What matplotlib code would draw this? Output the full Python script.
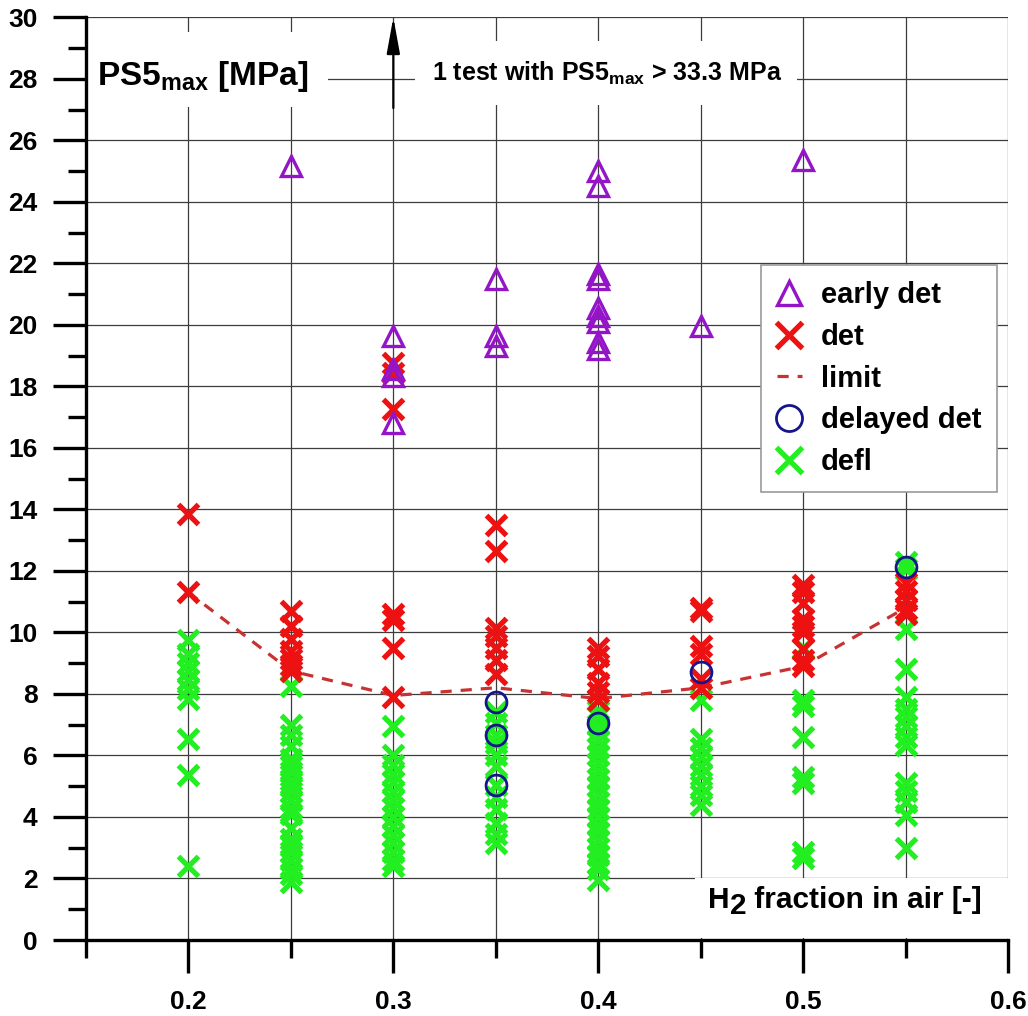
import matplotlib
matplotlib.use("Agg")
import matplotlib.pyplot as plt
from matplotlib.patches import Rectangle
from matplotlib.font_manager import FontProperties

plt.rcParams["font.family"] = ["Liberation Sans", "DejaVu Sans"]
plt.rcParams["font.weight"] = "bold"
plt.rcParams["mathtext.fontset"] = "custom"
plt.rcParams["mathtext.rm"] = "Liberation Sans:bold"
plt.rcParams["mathtext.bf"] = "Liberation Sans:bold"

# H2 fraction of each test series
h2_levels = [0.20, 0.25, 0.30, 0.35, 0.40, 0.45, 0.50, 0.55]

# PS5 peak pressures [MPa] per H2 fraction, grouped by combustion regime
early_det = {
    0.25: [25.15],
    0.30: [19.65, 18.55, 18.35, 16.8],
    0.35: [21.5, 19.65, 19.3],
    0.40: [25.0, 24.5, 21.65, 21.5, 20.55, 20.3, 20.1, 19.45, 19.2],
    0.45: [19.95],
    0.50: [25.35],
}
det = {
    0.20: [13.85, 11.3],
    0.25: [10.7, 10.2, 9.8, 9.4, 9.15, 8.95, 8.75],
    0.30: [18.75, 18.45, 17.25, 10.6, 10.4, 9.5, 7.9],
    0.35: [13.5, 12.65, 10.15, 9.9, 9.5, 9.1, 8.65],
    0.40: [9.5, 9.25, 8.8, 8.35, 8.05, 7.8],
    0.45: [10.8, 10.7, 9.55, 9.3, 8.5, 8.2],
    0.50: [11.55, 11.3, 10.95, 10.45, 10.2, 10.0, 9.45, 9.1, 8.9],
    0.55: [11.6, 11.35, 11.05, 10.75, 10.6],
}
delayed_det = {
    0.35: [7.75, 6.65, 5.05],
    0.40: [7.07],
    0.45: [8.72],
    0.55: [12.12],
}
defl = {
    0.20: [9.75, 9.3, 9.0, 8.75, 8.45, 8.15, 7.85, 6.55, 5.35, 2.42],
    0.25: [8.25, 7.0, 6.65, 6.3, 5.9, 5.65, 5.45, 5.2, 5.0, 4.8, 4.55, 4.3,
           4.1, 3.65, 3.3, 3.05, 2.85, 2.6, 2.35, 2.15, 1.9],
    0.30: [6.95, 6.0, 5.7, 5.4, 5.15, 4.8, 4.55, 4.3, 4.0, 3.7, 3.4, 3.15,
           2.85, 2.6, 2.4],
    0.35: [7.4, 7.05, 6.65, 6.4, 6.0, 5.65, 5.05, 4.65, 4.25, 3.8, 3.45, 3.15],
    0.40: [7.45, 7.25, 7.0, 6.75, 6.5, 6.25, 6.0, 5.75, 5.5, 5.25, 5.0, 4.75,
           4.5, 4.25, 4.0, 3.75, 3.5, 3.25, 3.0, 2.75, 2.5, 2.3, 1.95],
    0.45: [7.8, 6.55, 6.25, 5.95, 5.65, 5.35, 5.0, 4.7, 4.4],
    0.50: [9.5, 7.8, 7.6, 6.6, 5.3, 5.1, 2.85, 2.65],
    0.55: [12.3, 12.05, 10.1, 8.8, 7.9, 7.5, 7.25, 6.95, 6.6, 6.35, 5.1, 4.85,
           4.5, 4.05, 3.0],
}

# detonation limit curve
limit_x = [0.20, 0.25, 0.30, 0.35, 0.40, 0.45, 0.50, 0.55]
limit_y = [11.3, 8.75, 7.95, 8.2, 7.85, 8.2, 8.9, 10.8]

# off-scale test marker
offscale_x = 0.30
offscale_from = 27.05

x_major = [0.2, 0.3, 0.4, 0.5, 0.6]
x_minor = [0.15, 0.25, 0.35, 0.45, 0.55]
y_major = list(range(0, 31, 2))
y_minor = list(range(1, 30, 2))


def flatten(groups):
    xs, ys = [], []
    for x in h2_levels:
        for v in groups.get(x, []):
            xs.append(x)
            ys.append(v)
    return xs, ys


fig = plt.figure(figsize=(10.28, 10.16), dpi=100)
ax = fig.add_axes([86 / 1028, 76 / 1016, 922 / 1028, 922.7 / 1016])
ax.set_xlim(0.15, 0.6)
ax.set_ylim(0, 30)

ax.set_xticks(x_major)
ax.set_xticks(x_minor, minor=True)
ax.set_xticklabels([f"{v:.1f}" for v in x_major])
ax.set_yticks(y_major)
ax.set_yticks(y_minor, minor=True)
ax.set_yticklabels([str(v) for v in y_major])

ax.set_axisbelow(True)
ax.grid(True, axis="y", which="major", color="#3c3c3c", lw=0.9)
ax.grid(True, axis="x", which="both", color="#3c3c3c", lw=0.9)

for side in ("top", "right"):
    ax.spines[side].set_visible(False)
for side in ("left", "bottom"):
    ax.spines[side].set_linewidth(2.4)

ax.tick_params(axis="both", which="major", direction="out", length=24,
               width=2.4, labelsize=19)
ax.tick_params(axis="both", which="minor", direction="out", length=13,
               width=2.4)
ax.tick_params(axis="x", which="major", pad=12)
ax.tick_params(axis="y", which="major", pad=11)
for lab in ax.get_xticklabels() + ax.get_yticklabels():
    lab.set_fontweight("bold")

# white backgrounds for the annotation boxes
ax.add_patch(Rectangle((0.15, 27.07), 0.118, 2.44, fc="white", ec="none", zorder=1))
ax.add_patch(Rectangle((0.3106, 27.14), 0.1864, 2.09, fc="white", ec="none", zorder=1))
ax.add_patch(Rectangle((0.447, 0.05), 0.153, 1.95, fc="white", ec="none", zorder=1))

gx, gy = flatten(defl)
h_defl, = ax.plot(gx, gy, ls="none", marker="x", ms=15, mew=3.8,
                  color="#22ee22", zorder=3)
h_limit, = ax.plot(limit_x, limit_y, ls=(0, (3.5, 2.8)), lw=2.3,
                   color="#c83232", zorder=3.5)
rx, ry = flatten(det)
h_det, = ax.plot(rx, ry, ls="none", marker="x", ms=15, mew=3.8,
                 color="#ee1111", zorder=4)
bx, by = flatten(delayed_det)
h_del, = ax.plot(bx, by, ls="none", marker="o", ms=15, mfc="none",
                 mec="#15158c", mew=2.0, zorder=5)
px, py = flatten(early_det)
h_early, = ax.plot(px, py, ls="none", marker="^", ms=14, mfc="none",
                   mec="#9414c8", mew=2.4, zorder=6)

# arrow for the off-scale test
ax.annotate("", xy=(offscale_x, 30), xytext=(offscale_x, offscale_from),
            arrowprops=dict(arrowstyle="-|>,head_length=1.1,head_width=0.2",
                            color="black", lw=1.6, shrinkA=0, shrinkB=0,
                            mutation_scale=20),
            annotation_clip=False, zorder=6)

ax.text(0.1555, 27.79, r"PS5$_{\mathrm{max}}$ [MPa]", fontsize=24,
        fontweight="bold", va="baseline", ha="left", zorder=7)
ax.text(0.319, 27.95, r"1 test with PS5$_{\mathrm{max}}$ > 33.3 MPa",
        fontsize=18, fontweight="bold", va="baseline", ha="left", zorder=7)

# axis title with lowered index
t_h = ax.text(0.4536, 1.04, "H", fontsize=21.5, fontweight="bold",
              va="baseline", ha="left", zorder=7)
t_2 = ax.annotate("2", xy=(1, 0), xycoords=t_h, fontsize=21.5,
                  fontweight="bold", va="baseline", ha="left", zorder=7)
ax.annotate(" fraction in air [-]", xy=(1, 0), xycoords=(t_2, t_h),
            fontsize=21.5, fontweight="bold", va="bottom", ha="left", zorder=7)

leg = ax.legend([h_early, h_det, h_limit, h_del, h_defl],
                ["early det", "det", "limit", "delayed det", "defl"],
                loc="upper left", bbox_to_anchor=(0.732, 0.7315),
                borderaxespad=0, frameon=True, fancybox=False,
                edgecolor="#9a9a9a", framealpha=1,
                prop=FontProperties(family="Liberation Sans", weight="bold", size=21),
                markerscale=1.25, handlelength=0.85, handletextpad=0.65,
                labelspacing=0.47, borderpad=0.55)
leg.get_frame().set_linewidth(1.2)
leg.set_zorder(8)

fig.savefig("out.png", dpi=100, facecolor="white")
